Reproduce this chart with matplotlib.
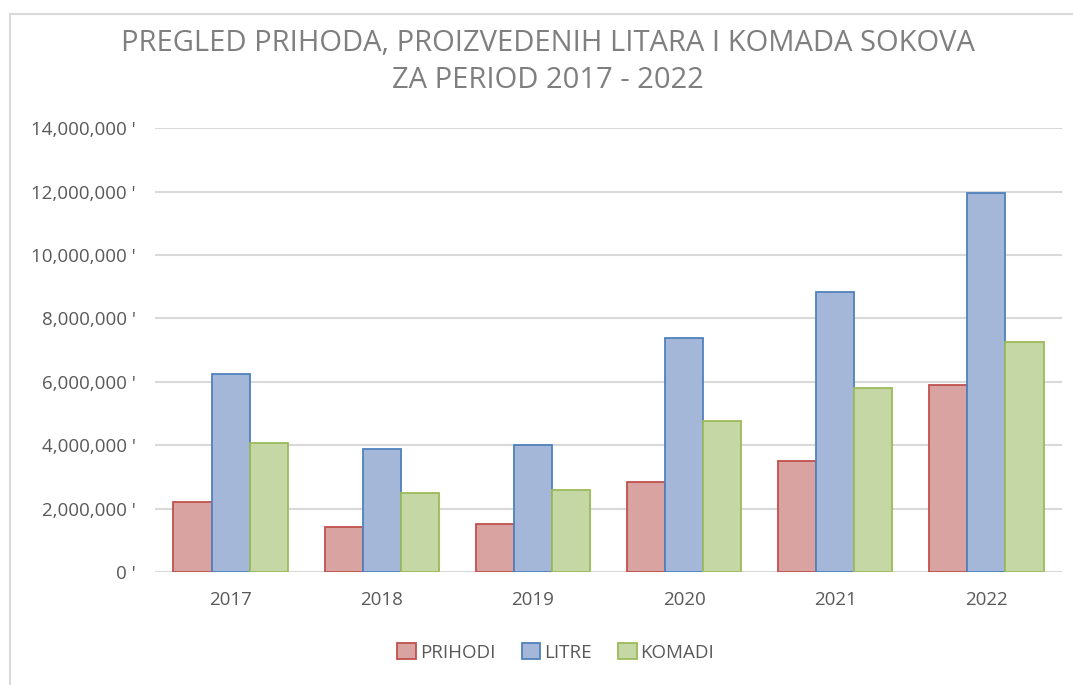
import numpy as np
import matplotlib.pyplot as plt
from matplotlib.lines import Line2D
from matplotlib.ticker import FuncFormatter

plt.rcParams['font.family'] = ['Open Sans', 'DejaVu Sans']

# podaci
godine = ['2017', '2018', '2019', '2020', '2021', '2022']
prihodi = [2200000, 1420000, 1510000, 2840000, 3500000, 5900000]
litre = [6250000, 3880000, 4000000, 7380000, 8830000, 11960000]
komadi = [4070000, 2490000, 2590000, 4760000, 5800000, 7260000]
serije = ['PRIHODI', 'LITRE', 'KOMADI']

boje_fill = ['#D9A3A2', '#A4B7D9', '#C5D7A4']
boje_rub = ['#C0504D', '#4F81BD', '#9BBB59']

fig = plt.figure(figsize=(10.73, 6.85), dpi=100)
ax = fig.add_axes([0.1445, 0.165, 0.8452, 0.648])

x = np.arange(len(godine))
w = 0.252
for i, (vals, name) in enumerate(zip([prihodi, litre, komadi], serije)):
    ax.bar(x + (i - 1) * w, vals, w, color=boje_fill[i], edgecolor=boje_rub[i],
           linewidth=1.3, label=name, zorder=3)

ax.set_xlim(-0.5, len(godine) - 0.5)
ax.set_ylim(0, 14000000)
ax.set_yticks(np.arange(0, 14000001, 2000000))
ax.yaxis.set_major_formatter(FuncFormatter(lambda v, p: f"{v:,.0f} '"))
ax.set_xticks(x)
ax.set_xticklabels(godine)
ax.grid(axis='y', color='#D9D9D9', linewidth=1.5, zorder=0)
for s in ax.spines.values():
    s.set_visible(False)
ax.tick_params(axis='both', length=0, labelsize=13.5, colors='#595959')
ax.tick_params(axis='y', pad=14)
ax.tick_params(axis='x', pad=14)

fig.text(0.511, 0.937, 'PREGLED PRIHODA, PROIZVEDENIH LITARA I KOMADA SOKOVA',
         ha='center', va='center', fontsize=21, color='#7F7F7F')
fig.text(0.511, 0.882, 'ZA PERIOD 2017 - 2022',
         ha='center', va='center', fontsize=21, color='#7F7F7F')

fig.legend(loc='center', bbox_to_anchor=(0.518, 0.048), ncol=3, frameon=False,
           fontsize=13.5, labelcolor='#595959', handlelength=1.0, handleheight=1.0,
           handletextpad=0.2, columnspacing=1.4)

# okvir grafikona
fig.add_artist(Line2D([10 / 1073, 10 / 1073], [0, 1 - 14 / 685], color='#D9D9D9', lw=1.5))
fig.add_artist(Line2D([10 / 1073, 1], [1 - 14 / 685, 1 - 14 / 685], color='#D9D9D9', lw=1.5))

fig.savefig('out.png', dpi=100)
